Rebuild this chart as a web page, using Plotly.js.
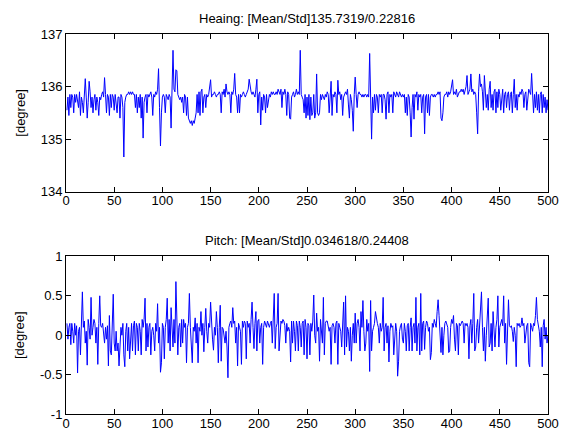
<!DOCTYPE html>
<html>
<head>
<meta charset="utf-8">
<script src="https://cdn.plot.ly/plotly-3.0.1.min.js"></script>
<style>html,body{margin:0;padding:0;background:#fff;}#chart{width:571px;height:433px;}</style>
</head>
<body>
<div id="chart"></div>
<script>
const headingTitle = "Heaing: [Mean/Std]135.7319/0.22816";
const pitchTitle = "Pitch: [Mean/Std]0.034618/0.24408";
const yLabel = "[degree]";
const xTicks = [0, 50, 100, 150, 200, 250, 300, 350, 400, 450, 500];
const headingTicks = [134, 135, 136, 137];
const pitchTicks = [-1, -0.5, 0, 0.5, 1];

const heading = [
135.55,135.8,135.45,135.85,135.6,135.85,135.8,135.5,135.85,135.7,
135.85,135.75,135.6,135.9,135.45,135.8,135.7,135.5,135.9,136.15,
135.8,135.4,135.7,136.1,135.9,135.6,135.8,135.5,135.75,135.85,
135.55,135.8,135.7,135.45,135.8,135.75,135.85,135.9,135.8,136.17,
135.85,135.5,135.85,135.8,135.45,135.85,135.6,135.85,135.8,135.55,
135.85,135.7,135.5,135.8,135.8,135.4,135.85,135.8,135.6,134.66,
135.7,135.8,135.85,135.85,135.9,135.85,135.9,135.85,135.9,135.85,
135.85,135.6,135.85,135.5,135.8,135.6,135.85,135.4,135.8,135.02,
135.7,135.8,135.85,135.5,135.85,135.8,135.85,135.9,135.8,135.45,
135.85,135.8,135.9,135.85,135.95,136.34,135.6,134.87,135.5,135.8,
135.85,135.8,135.5,135.85,135.8,135.75,135.85,135.8,135.21,135.85,
136.69,135.95,135.9,136.32,136.3,135.85,135.8,135.75,135.8,135.7,
135.8,135.5,135.85,135.8,135.45,135.8,135.4,135.35,135.3,135.35,
135.26,135.35,135.3,135.4,135.5,135.85,135.5,135.9,135.45,135.9,
135.95,135.5,135.8,135.85,135.6,135.85,135.8,135.85,136.0,136.13,
135.8,135.85,135.85,135.9,135.85,135.8,135.85,135.85,135.9,135.85,
135.5,135.9,135.85,135.95,135.8,136.05,135.9,135.85,135.9,135.85,
135.5,135.9,135.85,135.95,136.25,135.85,135.8,135.5,135.85,135.5,
135.85,135.8,135.85,135.9,135.85,135.8,135.85,135.9,135.95,136.14,
135.95,135.9,135.85,135.9,135.85,135.8,135.95,136.14,135.5,135.85,
135.9,135.27,135.8,135.55,135.85,135.8,135.5,135.85,135.6,135.8,
135.85,135.8,135.9,135.85,135.9,135.85,135.85,135.9,135.85,135.95,
135.9,135.85,135.95,135.6,135.9,135.85,135.95,135.85,135.45,135.9,
135.85,135.4,135.38,135.8,135.85,135.9,135.8,135.85,135.95,135.85,
135.9,135.85,136.69,135.85,135.8,135.75,135.5,135.85,135.4,135.8,
135.45,135.85,135.37,135.8,135.45,135.5,135.85,135.4,135.5,136.24,
135.5,135.45,135.5,135.85,135.75,135.85,135.8,135.75,135.85,135.8,
135.9,135.85,135.5,135.9,136.1,135.45,135.85,135.8,135.9,135.85,
135.5,136.12,135.85,135.9,135.75,135.85,135.45,135.8,135.85,135.9,
135.85,135.95,135.65,135.4,135.85,135.75,135.55,135.15,135.85,136.18,
135.85,135.6,135.85,135.9,135.85,135.85,135.8,135.85,135.8,135.85,
135.85,135.8,135.85,135.8,136.63,135.7,135.0,135.8,135.5,135.85,
135.55,135.85,135.8,135.5,135.85,135.8,135.85,135.5,135.85,135.85,
135.75,135.38,135.85,135.9,135.5,135.85,135.8,135.85,135.5,135.9,
135.85,135.8,135.9,135.85,135.8,135.9,135.85,135.8,135.85,135.8,
135.85,135.5,135.8,135.45,135.85,135.8,135.5,135.04,135.6,135.85,
135.38,135.85,135.8,135.9,135.55,135.85,135.8,135.85,135.5,135.8,
135.85,135.1,135.8,135.85,135.5,135.85,135.45,135.8,135.85,135.85,
135.8,135.85,135.8,135.85,135.85,135.9,135.85,135.9,135.4,135.35,
135.5,135.8,135.85,135.85,135.9,135.8,135.9,135.85,135.9,136.0,
136.13,135.85,135.9,135.85,135.95,135.8,135.85,135.9,135.9,135.95,
135.9,135.95,135.85,135.95,136.0,136.21,135.85,135.9,135.95,136.24,
135.9,135.95,135.85,135.9,135.85,135.5,135.1,135.9,136.24,136.0,
136.05,135.9,135.55,136.21,135.9,135.6,135.85,135.55,135.95,136.1,
135.6,135.85,135.55,135.9,135.95,135.5,135.9,135.6,135.95,135.85,
135.55,135.8,135.95,135.5,135.85,135.9,135.6,135.85,135.9,135.55,
135.85,135.9,135.5,135.85,136.14,135.6,135.85,135.55,135.85,135.8,
135.9,135.85,135.95,135.9,135.6,135.85,135.9,135.55,135.85,135.95,
135.9,135.85,136.25,135.8,135.5,135.85,135.6,135.9,135.55,135.85,
135.5,135.85,135.9,135.5,135.85,135.6,135.8,135.5,135.75,135.55
];

const pitch = [
0.15,-0.05,0.1,0.15,-0.12,0.15,0.05,-0.1,0.15,0.0,
0.12,-0.48,0.05,0.1,-0.25,0.2,0.55,0.1,0.18,-0.1,
0.05,-0.38,0.2,0.1,-0.05,0.48,0.0,0.1,0.2,0.15,
-0.1,0.1,-0.37,0.15,0.5,0.12,0.1,0.15,0.05,-0.1,
0.1,-0.05,0.12,-0.39,0.25,-0.2,-0.25,0.05,0.52,-0.1,
-0.2,0.05,-0.2,-0.1,-0.39,-0.15,0.1,0.0,0.15,-0.25,
-0.4,0.05,0.15,-0.2,0.1,-0.3,0.0,0.15,-0.2,0.12,
0.18,-0.25,0.15,0.1,-0.2,0.15,0.05,-0.25,0.2,0.1,
0.2,0.47,-0.2,0.15,-0.15,0.1,0.15,-0.25,0.05,0.1,
0.0,-0.2,0.15,0.05,0.4,-0.1,0.1,-0.47,-0.35,0.15,
0.1,-0.3,0.1,0.2,0.47,-0.1,0.2,-0.2,0.35,0.05,
-0.15,0.2,-0.1,0.68,0.15,-0.25,0.1,0.15,-0.15,0.2,
-0.1,0.2,0.1,0.15,-0.35,0.1,0.15,0.53,0.1,-0.1,
-0.35,0.1,0.05,0.22,-0.1,0.15,-0.35,0.1,0.05,0.3,
0.0,0.15,-0.21,0.1,0.34,0.05,-0.1,0.15,0.1,0.42,
0.1,-0.05,-0.19,0.1,0.0,0.3,0.1,-0.35,0.1,0.38,
-0.33,0.1,0.08,0.0,-0.1,0.05,-0.15,-0.54,0.1,0.15,
0.18,0.1,0.35,0.15,0.18,-0.1,0.1,-0.39,0.15,0.1,
0.05,-0.37,0.18,0.1,0.18,0.15,-0.3,0.18,0.1,0.15,
-0.1,0.2,0.42,0.1,-0.17,0.15,0.3,-0.2,0.18,0.2,
-0.1,0.1,0.15,-0.37,0.1,0.18,0.12,0.1,0.18,0.15,
0.1,0.15,0.18,-0.1,0.2,0.53,-0.17,0.1,0.15,0.53,
-0.2,0.1,0.18,0.15,0.2,0.18,0.12,-0.1,0.15,0.05,
0.1,0.05,-0.34,0.18,-0.1,0.18,0.05,-0.2,0.18,0.12,
-0.2,0.18,0.1,-0.15,0.15,0.18,-0.25,0.2,0.1,-0.3,
0.15,0.12,-0.25,0.15,0.05,0.18,0.51,0.0,-0.1,0.28,
0.05,0.1,-0.33,0.2,0.05,-0.1,0.48,-0.25,0.15,0.18,
0.18,0.1,0.05,0.1,-0.37,0.12,0.15,0.1,-0.1,0.15,
0.18,-0.37,0.15,0.1,0.05,-0.15,0.1,0.42,-0.25,0.5,
-0.15,0.1,0.05,-0.2,0.1,-0.33,0.0,0.15,-0.1,0.28,
-0.1,0.15,0.2,0.1,-0.2,0.3,0.1,0.44,0.05,-0.2,
-0.1,0.2,0.05,0.15,-0.46,0.44,-0.2,0.05,0.1,0.15,
0.3,0.2,0.15,0.1,-0.1,0.15,0.05,0.1,0.48,-0.2,
0.1,0.15,-0.1,0.12,-0.34,0.05,0.15,0.1,0.12,-0.25,
0.0,0.15,0.05,-0.52,-0.33,0.05,0.12,0.15,-0.05,-0.1,
0.15,0.05,-0.2,0.12,0.15,-0.2,0.1,0.22,-0.2,0.1,
0.15,-0.1,0.48,-0.2,0.1,0.15,-0.25,0.53,-0.2,0.15,
0.18,-0.18,0.1,0.18,0.15,0.05,0.1,-0.31,-0.22,0.15,
0.1,0.2,0.15,0.1,0.3,0.45,0.25,-0.05,-0.22,0.1,
-0.25,0.0,0.15,0.18,0.12,0.1,-0.22,-0.2,0.1,0.2,
0.15,0.25,-0.05,-0.2,0.15,0.12,-0.25,0.15,0.12,0.15,
0.18,0.15,-0.1,0.15,0.12,0.15,0.1,-0.3,0.12,0.2,
-0.1,0.15,0.53,-0.2,-0.15,0.1,0.2,-0.1,0.18,0.3,
0.55,0.1,-0.2,0.1,-0.33,0.0,0.28,0.47,-0.15,-0.1,
0.15,-0.2,0.3,0.1,-0.15,0.1,0.2,0.5,-0.15,0.1,
0.15,0.2,0.12,0.5,-0.1,0.15,-0.37,0.05,0.45,0.12,
0.1,0.12,0.05,-0.08,0.1,0.0,-0.4,0.15,0.12,0.15,
0.1,0.12,0.22,0.12,0.15,-0.1,0.05,0.12,0.15,-0.35,
-0.4,0.15,0.1,0.05,0.15,0.12,0.25,0.48,0.2,0.1,
0.05,-0.15,0.1,-0.4,0.12,0.2,-0.05,0.1,-0.1,0.0
];

const xs = heading.map((_, i) => i + 1);
const xsP = pitch.map((_, i) => i + 1);

const font = {family: 'Arial, "Liberation Sans", sans-serif', size: 13, color: '#000'};

const traces = [
  {x: xs, y: heading, type: 'scatter', mode: 'lines', line: {color: '#0000ff', width: 1}, xaxis: 'x', yaxis: 'y', hoverinfo: 'skip'},
  {x: xsP, y: pitch, type: 'scatter', mode: 'lines', line: {color: '#0000ff', width: 1}, xaxis: 'x2', yaxis: 'y2', hoverinfo: 'skip'}
];

const xaxisBase = {
  range: [0, 500], tickvals: xTicks, ticktext: xTicks.map(String),
  ticks: 'inside', ticklen: 5, tickcolor: '#000', tickwidth: 1,
  showline: true, linecolor: '#000', linewidth: 1, mirror: 'ticks',
  showgrid: false, zeroline: false, tickfont: font, ticklabelstandoff: -3
};
const yaxisBase = {
  ticks: 'inside', ticklen: 5, tickcolor: '#000', tickwidth: 1,
  showline: true, linecolor: '#000', linewidth: 1, mirror: 'ticks',
  showgrid: false, zeroline: false, tickfont: font
};

const layout = {
  width: 571, height: 433,
  margin: {l: 66, r: 23, t: 34, b: 19},
  paper_bgcolor: '#fff', plot_bgcolor: '#fff',
  showlegend: false,
  font: font,
  xaxis: Object.assign({}, xaxisBase, {domain: [0, 1], anchor: 'y'}),
  yaxis: Object.assign({}, yaxisBase, {domain: [0.585, 1], anchor: 'x', range: [134, 137], tickvals: headingTicks, ticktext: headingTicks.map(String),
    title: {text: yLabel, font: font, standoff: 12}}),
  xaxis2: Object.assign({}, xaxisBase, {domain: [0, 1], anchor: 'y2'}),
  yaxis2: Object.assign({}, yaxisBase, {domain: [0, 0.4147], anchor: 'x2', range: [-1, 1], tickvals: pitchTicks, ticktext: ['-1', '-0.5', '0', '0.5', '1'],
    title: {text: yLabel, font: font, standoff: 12}}),
  annotations: [
    {text: headingTitle, xref: 'paper', yref: 'paper', x: 0.5, y: 1, yshift: 6, xanchor: 'center', yanchor: 'bottom', showarrow: false, font: font},
    {text: pitchTitle, xref: 'paper', yref: 'paper', x: 0.5, y: 0.4147, yshift: 6, xanchor: 'center', yanchor: 'bottom', showarrow: false, font: font}
  ]
};

Plotly.newPlot('chart', traces, layout, {displayModeBar: false, staticPlot: true});
</script>
</body>
</html>
